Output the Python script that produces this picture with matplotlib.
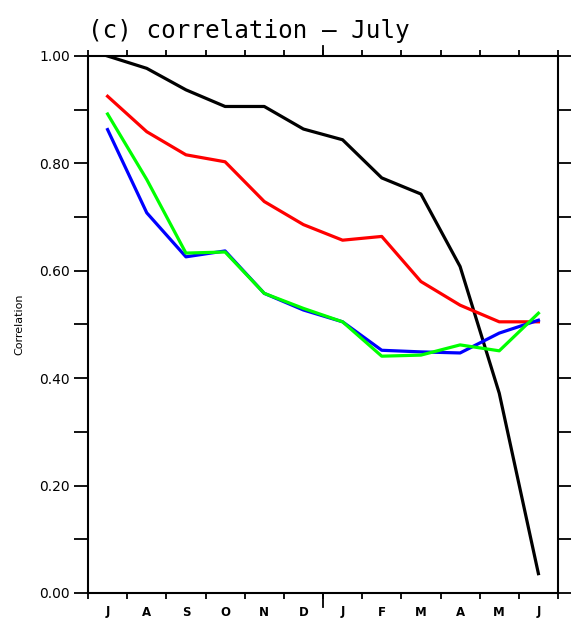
import numpy as np
import matplotlib
matplotlib.use('Agg')
import matplotlib.pyplot as plt

# months July -> June
months = ['J', 'A', 'S', 'O', 'N', 'D', 'J', 'F', 'M', 'A', 'M', 'J']

black = [1.00, 0.977, 0.937, 0.906, 0.906, 0.864, 0.844, 0.773, 0.743, 0.608, 0.372, 0.036]
red   = [0.925, 0.859, 0.816, 0.803, 0.729, 0.686, 0.657, 0.664, 0.580, 0.536, 0.505, 0.505]
blue  = [0.863, 0.708, 0.626, 0.637, 0.558, 0.527, 0.505, 0.452, 0.449, 0.447, 0.484, 0.508]
green = [0.892, 0.770, 0.633, 0.635, 0.558, 0.530, 0.505, 0.441, 0.443, 0.462, 0.451, 0.521]

x = np.arange(len(months)) + 0.5

fig = plt.figure(figsize=(5.71, 6.24), dpi=100)
ax = fig.add_axes([88/571, 31/624, 470/571, 537/624])

for vals, col in [(black, 'black'), (red, '#ff0000'), (blue, '#0000ff'), (green, '#00ff00')]:
    ax.plot(x, vals, color=col, lw=2.3)

ax.set_xlim(0, 12)
ax.set_ylim(0, 1.0)

# month boundaries as ticks, labels at month centres
ax.set_xticks(np.arange(0, 13))
ax.set_xticklabels([])
ax.set_xticks(x, minor=True)
ax.set_xticklabels(months, minor=True, fontsize=8.5, fontweight='bold')
ax.tick_params(axis='x', which='major', direction='out', length=4.5, width=1.3,
               top=True, bottom=True)
ax.tick_params(axis='x', which='minor', length=0, pad=9)
# longer tick at the year boundary
ax.plot([6, 6], [0, -0.026], color='black', lw=1.3, clip_on=False)
ax.plot([6, 6], [1.0, 1.018], color='black', lw=1.3, clip_on=False)

ax.set_yticks([0, 0.2, 0.4, 0.6, 0.8, 1.0])
ax.set_yticklabels(['0.00', '0.20', '0.40', '0.60', '0.80', '1.00'], fontsize=10)
ax.set_yticks(np.arange(0.1, 1.0, 0.2), minor=True)
ax.tick_params(axis='y', which='both', direction='out', length=10, width=1.3,
               left=True, right=True, pad=3)

for s in ax.spines.values():
    s.set_linewidth(1.5)

ax.set_ylabel('Correlation', fontsize=8, labelpad=11)
fig.text(88/571, 1 - 38/624, '(c) correlation \u2014 July', fontsize=17.5,
         family='DejaVu Sans Mono', color='black', ha='left', va='baseline')

fig.savefig('out.png', dpi=100)
